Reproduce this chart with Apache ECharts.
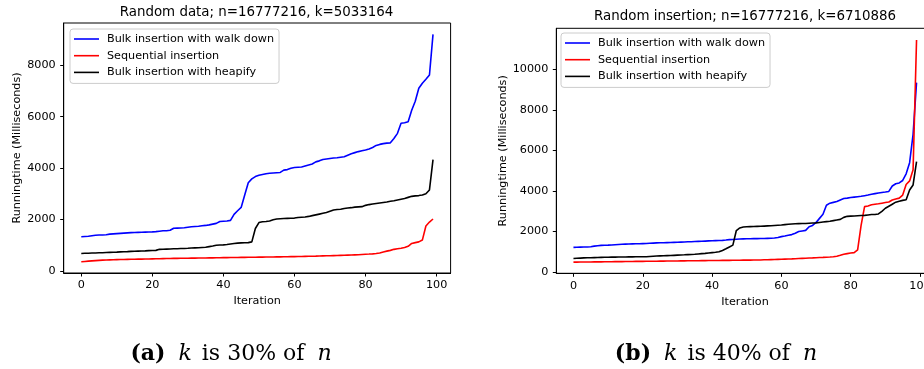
<!DOCTYPE html>
<html><head><meta charset="utf-8">
<script src="https://cdn.jsdelivr.net/npm/echarts@6/dist/echarts.min.js"></script>
<style>html,body{margin:0;padding:0;background:#fff}#c{width:924px;height:369px}</style>
</head><body><div id="c"></div>
<script>
// ---- data ----
const titleA = 'Random data; n=16777216, k=5033164';
const titleB = 'Random insertion; n=16777216, k=6710886';
const seriesNames = ['Bulk insertion with walk down', 'Sequential insertion', 'Bulk insertion with heapify'];
const seriesColors = ['#0000ff', '#ff0000', '#000000'];
const xTicks = [0, 20, 40, 60, 80, 100];
const yTicksA = [0, 2000, 4000, 6000, 8000];
const yTicksB = [0, 2000, 4000, 6000, 8000, 10000];

const walkDownA = [1330,1340,1350,1370,1390,1400,1400,1410,1430,1440,
 1450,1460,1470,1480,1490,1495,1500,1505,1510,1515,
 1520,1530,1545,1560,1565,1580,1660,1665,1670,1680,
 1700,1720,1730,1740,1755,1770,1790,1820,1850,1920,
 1930,1940,1965,2200,2340,2470,2950,3430,3580,3670,
 3720,3750,3780,3800,3810,3820,3830,3920,3940,3990,
 4020,4030,4040,4080,4120,4160,4240,4280,4330,4350,
 4370,4390,4400,4420,4440,4500,4560,4600,4640,4670,
 4700,4740,4800,4880,4920,4950,4970,4980,5150,5350,
 5740,5760,5800,6250,6600,7100,7300,7450,7620,9200];
const sequentialA = [360,370,380,390,400,410,420,425,430,435,
 440,443,446,449,452,455,458,461,464,467,
 470,473,476,479,482,485,488,490,492,494,
 496,498,500,502,504,506,508,510,512,514,
 516,518,520,522,524,526,528,530,532,534,
 536,538,540,542,544,546,548,550,552,555,
 558,561,564,567,570,573,576,580,584,588,
 592,596,600,605,610,615,620,626,632,640,
 648,656,665,680,700,740,770,800,840,860,
 880,910,960,1070,1100,1130,1200,1750,1900,2020];
const heapifyA = [680,685,690,695,700,705,710,715,720,725,
 730,740,745,750,760,765,770,775,780,790,
 795,800,840,845,850,855,860,865,870,875,
 880,890,895,900,910,920,945,970,1000,1010,
 1015,1030,1050,1065,1080,1090,1095,1100,1130,1650,
 1880,1910,1920,1940,1990,2020,2030,2040,2045,2050,
 2055,2080,2090,2100,2120,2150,2180,2210,2240,2270,
 2320,2370,2390,2400,2430,2450,2460,2480,2490,2500,
 2550,2580,2600,2620,2640,2660,2680,2710,2730,2760,
 2790,2820,2860,2900,2920,2930,2950,3000,3150,4330];

const walkDownB = [1220,1225,1230,1235,1240,1250,1280,1300,1320,1325,
 1330,1340,1350,1360,1370,1378,1385,1390,1395,1400,
 1405,1410,1420,1430,1440,1445,1450,1455,1460,1465,
 1470,1478,1485,1495,1500,1510,1515,1520,1530,1540,
 1545,1550,1555,1565,1580,1600,1610,1620,1630,1640,
 1645,1648,1650,1652,1655,1660,1665,1670,1680,1710,
 1750,1780,1820,1850,1920,2000,2030,2060,2240,2300,
 2450,2650,2850,3300,3400,3440,3480,3560,3630,3650,
 3680,3700,3720,3740,3770,3800,3840,3870,3900,3930,
 3950,3980,4250,4360,4400,4520,4850,5400,6800,9350];
const sequentialB = [490,492,494,496,498,500,502,504,506,508,
 510,512,514,516,518,520,522,524,526,528,
 530,532,534,536,538,540,542,544,546,548,
 550,552,554,556,558,560,562,564,566,568,
 570,572,574,576,578,580,582,584,586,588,
 590,592,595,598,600,605,610,615,620,625,
 630,638,645,652,660,668,676,684,692,700,
 710,718,726,735,745,760,785,830,880,910,
 940,960,1100,2300,3230,3260,3320,3350,3370,3400,
 3430,3460,3560,3610,3650,3800,4320,4500,5050,11450];
const heapifyB = [670,680,690,700,705,710,715,720,725,730,
 733,736,739,742,745,748,750,752,754,756,
 758,760,770,780,790,800,805,810,815,825,
 835,845,852,860,868,880,895,910,925,945,
 960,975,1000,1070,1150,1240,1330,2050,2180,2225,
 2240,2245,2250,2255,2260,2270,2280,2290,2300,2310,
 2320,2340,2360,2375,2385,2390,2395,2400,2410,2420,
 2430,2450,2470,2490,2510,2540,2570,2600,2700,2750,
 2760,2770,2780,2790,2800,2820,2840,2840,2870,3000,
 3150,3250,3350,3450,3500,3540,3570,4050,4300,5450];

// ---- chart ----
const FONT = 'DejaVu Sans';
const SERIF = 'DejaVu Serif';
const toPairs = arr => arr.map((v, i) => [i, v]);
const chart = echarts.init(document.getElementById('c'), null, {renderer: 'canvas'});

function xAxis(gridIndex) {
  return {
    type: 'value', gridIndex, min: -4.95, max: 103.95,
    name: 'Iteration', nameLocation: 'middle', nameGap: 22,
    nameTextStyle: {fontFamily: FONT, fontSize: 11.2, color: '#000'},
    axisLine: {show: true, onZero: false, lineStyle: {color: '#000', width: 1}},
    axisTick: {show: true, length: 3.5, customValues: xTicks, lineStyle: {color: '#000'}},
    axisLabel: {customValues: xTicks, margin: 7, fontFamily: FONT, fontSize: 11.2, color: '#000', formatter: v => String(v)},
    splitLine: {show: false}
  };
}
function yAxis(gridIndex, min, max, ticks, gap) {
  return {
    type: 'value', gridIndex, min, max,
    name: 'Runningtime (Milliseconds)', nameLocation: 'middle', nameGap: gap,
    nameTextStyle: {fontFamily: FONT, fontSize: 11.2, color: '#000'},
    axisLine: {show: true, onZero: false, lineStyle: {color: '#000', width: 1}},
    axisTick: {show: true, length: 3.5, customValues: ticks, lineStyle: {color: '#000'}},
    axisLabel: {customValues: ticks, margin: 8, fontFamily: FONT, fontSize: 11.2, color: '#000', formatter: v => String(v)},
    splitLine: {show: false}
  };
}
function lineSeries(name, data, color, idx) {
  return {
    type: 'line', name, data: toPairs(data), xAxisIndex: idx, yAxisIndex: idx,
    showSymbol: false, symbol: 'none', color,
    lineStyle: {color, width: 1.6}, itemStyle: {color},
    animation: false, z: 2
  };
}
function legend(left, top) {
  return {
    data: seriesNames, orient: 'vertical', left, top,
    padding: [4, 5, 5, 4], itemGap: 4.7, itemWidth: 25, itemHeight: 1.6,
    icon: 'rect', selectedMode: false,
    itemStyle: {borderWidth: 0},
    backgroundColor: 'rgba(255,255,255,0.8)', borderColor: '#cccccc', borderWidth: 1, borderRadius: 3,
    textStyle: {fontFamily: FONT, fontSize: 11.2, color: '#000', lineHeight: 12, padding: [0, 0, 0, 3]}
  };
}
function caption(x, label, pct) {
  return {type: 'text', x, y: 354, style: {
    text: '{b|(' + label + ')}{k|k}is ' + pct + '% of{n|n}',
    fontFamily: SERIF, fontSize: 22, fill: '#000', align: 'center', verticalAlign: 'middle',
    rich: {
      b: {fontWeight: 'bold', fontFamily: SERIF, fontSize: 22, padding: [0, 13, 0, 0]},
      k: {fontStyle: 'italic', fontFamily: SERIF, fontSize: 22, padding: [0, 10, 0, 0]},
      n: {fontStyle: 'italic', fontFamily: SERIF, fontSize: 22, padding: [0, 0, 0, 13]}
    }
  }};
}

const gridCommon = {show: true, borderColor: '#000', borderWidth: 1, backgroundColor: 'transparent', outerBoundsMode: 'none', containLabel: false};
const option = {
  backgroundColor: '#fff',
  animation: false,
  grid: [
    Object.assign({left: 63.7, top: 23, width: 386.9, height: 250}, gridCommon),
    Object.assign({left: 556.3, top: 28.3, width: 377.4, height: 245}, gridCommon)
  ],
  xAxis: [xAxis(0), xAxis(1)],
  yAxis: [yAxis(0, -80, 9640, yTicksA, 41), yAxis(1, -60, 12030, yTicksB, 48)],
  legend: [legend(70, 29), legend(561, 33)],
  series: [
    lineSeries(seriesNames[0], walkDownA, seriesColors[0], 0),
    lineSeries(seriesNames[1], sequentialA, seriesColors[1], 0),
    lineSeries(seriesNames[2], heapifyA, seriesColors[2], 0),
    lineSeries(seriesNames[0], walkDownB, seriesColors[0], 1),
    lineSeries(seriesNames[1], sequentialB, seriesColors[1], 1),
    lineSeries(seriesNames[2], heapifyB, seriesColors[2], 1)
  ],
  graphic: [
    {type: 'text', x: 256.5, y: 13, style: {text: titleA, fontFamily: FONT, fontSize: 13.4, fill: '#000', align: 'center', verticalAlign: 'middle'}},
    {type: 'text', x: 745, y: 17, style: {text: titleB, fontFamily: FONT, fontSize: 13.4, fill: '#000', align: 'center', verticalAlign: 'middle'}},
    caption(231, 'a', 30),
    caption(716, 'b', 40)
  ]
};
chart.setOption(option);
</script>
</body></html>
